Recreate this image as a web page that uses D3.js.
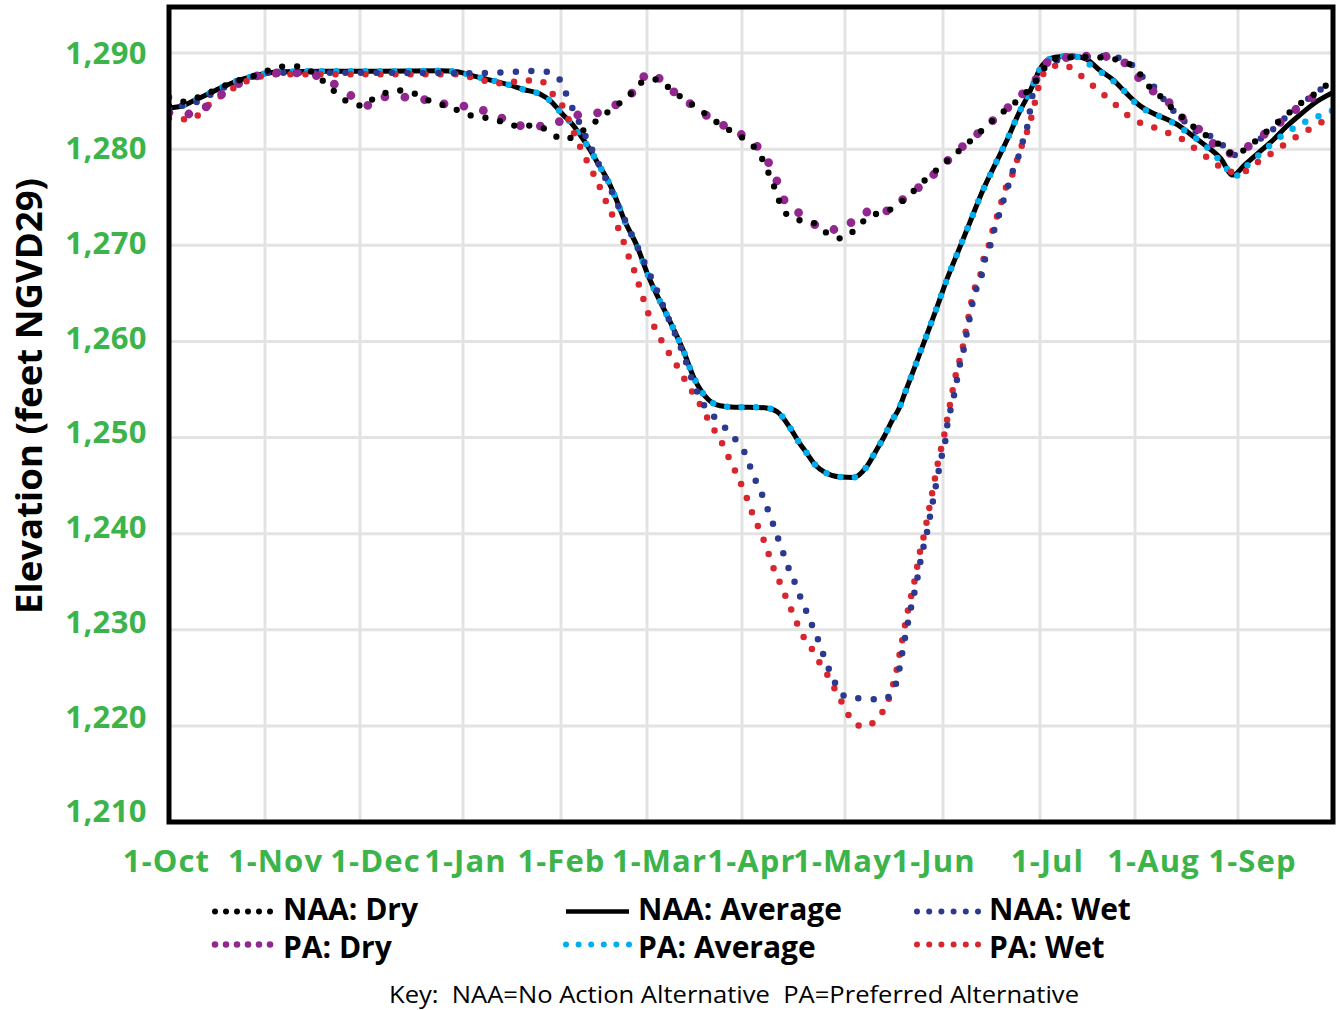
<!DOCTYPE html>
<html><head><meta charset="utf-8">
<script src="https://cdn.jsdelivr.net/npm/d3@7"></script>
<style>body{margin:0;background:#fff}svg{display:block}</style>
</head><body><svg id="c" width="1340" height="1010"></svg>
<script>
// ---- data (x = months since 1-Oct, y = elevation ft NGVD29) ----
const monthLabels = ["1-Oct","1-Nov","1-Dec","1-Jan","1-Feb","1-Mar","1-Apr","1-May","1-Jun","1-Jul","1-Aug","1-Sep"];
const yTicks = [1210,1220,1230,1240,1250,1260,1270,1280,1290];

const naaDry = [[0,1284.5],[0.03,1284.6],[0.32,1285.45],[0.64,1286.85],[0.91,1287.7],[1.2,1288.6],[1.36,1288.6],[1.49,1288.05],[1.61,1287.1],[1.72,1286.1],[1.84,1285.1],[1.97,1284.6],[2.04,1284.5],[2.11,1285.1],[2.21,1285.7],[2.38,1286.1],[2.55,1285.7],[2.69,1284.95],[2.83,1284.5],[2.96,1284.0],[3.08,1283.5],[3.21,1283.3],[3.35,1283.0],[3.51,1282.45],[3.69,1282.45],[3.86,1282.0],[4.02,1281.0],[4.36,1282.6],[4.52,1283.7],[4.67,1284.7],[4.83,1285.9],[4.97,1287.1],[5.12,1287.25],[5.25,1286.2],[5.54,1284.2],[5.81,1282.3],[5.97,1281.4],[6.11,1280.3],[6.2,1278.9],[6.27,1277.2],[6.33,1275.6],[6.39,1273.8],[6.52,1272.7],[6.68,1272.4],[6.82,1271.3],[6.97,1270.7],[7.11,1271.7],[7.22,1272.8],[7.36,1273.4],[7.48,1273.8],[7.61,1274.8],[7.83,1276.9],[8.07,1279.0],[8.31,1281.1],[8.55,1283.3],[8.8,1285.35],[8.93,1286.7],[9.03,1288.2],[9.11,1289.2],[9.23,1289.45],[9.42,1289.6],[9.61,1289.55],[9.79,1289.35],[9.97,1288.65],[10.08,1287.4],[10.16,1286.2],[10.27,1285.3],[10.36,1284.25],[10.45,1283.4],[10.57,1282.3],[10.68,1281.5],[10.79,1280.7],[10.92,1279.6],[10.97,1279.4],[11.09,1280.1],[11.25,1281.4],[11.37,1282.4],[11.51,1283.55],[11.65,1284.7],[11.81,1285.75],[11.95,1286.8]];

const paDry = [[0,1283.8],[0.03,1283.7],[0.29,1283.65],[0.44,1284.95],[0.61,1286.1],[0.76,1287.0],[0.95,1287.7],[1.19,1287.95],[1.42,1287.9],[1.65,1287.2],[1.86,1285.9],[2.07,1284.55],[2.19,1285.45],[2.38,1285.4],[2.53,1285.4],[2.7,1284.9],[2.91,1284.6],[3.14,1284.25],[3.38,1283.3],[3.62,1282.4],[3.88,1282.4],[4.1,1283.45],[4.39,1283.7],[4.67,1284.8],[4.85,1286.05],[5.03,1288.05],[5.21,1286.5],[5.39,1285.2],[5.58,1283.8],[5.78,1282.6],[5.97,1281.65],[6.13,1280.5],[6.24,1278.95],[6.32,1277.2],[6.42,1274.5],[6.57,1273.25],[6.77,1271.85],[6.97,1271.6],[7.17,1273.4],[7.45,1273.6],[7.62,1275.05],[7.8,1276.4],[7.97,1278.0],[8.12,1279.55],[8.3,1281.1],[8.47,1282.6],[8.65,1284.15],[8.81,1285.65],[8.94,1287.0],[9.09,1289.1],[9.35,1289.6],[9.6,1289.7],[9.84,1289.3],[10.02,1287.6],[10.14,1286.3],[10.29,1285.3],[10.44,1283.45],[10.65,1281.8],[10.78,1280.4],[10.94,1279.55],[11.12,1280.35],[11.27,1281.5],[11.44,1282.75],[11.6,1284.05],[11.76,1285.2],[11.94,1286.15]];

const naaAverage = [[0,1284.3],[0.14,1284.5],[0.25,1285.0],[0.42,1285.8],[0.58,1286.55],[0.74,1287.2],[0.88,1287.6],[1.05,1287.95],[1.19,1288.05],[1.6,1288.1],[2.2,1288.1],[2.78,1288.15],[2.94,1288.05],[3.11,1287.6],[3.48,1286.65],[3.62,1286.2],[3.78,1285.75],[3.9,1284.95],[4.01,1283.7],[4.14,1282.5],[4.26,1281.0],[4.34,1279.9],[4.43,1278.5],[4.53,1277.0],[4.63,1275.05],[4.74,1272.55],[4.88,1270.0],[5.01,1266.9],[5.26,1261.7],[5.38,1259.1],[5.49,1256.3],[5.56,1255.0],[5.65,1253.9],[5.77,1253.3],[5.92,1253.15],[6.06,1253.15],[6.22,1253.1],[6.34,1252.7],[6.47,1250.95],[6.55,1249.55],[6.63,1248.35],[6.71,1247.15],[6.81,1246.35],[6.95,1245.9],[7.09,1245.85],[7.22,1246.95],[7.31,1248.5],[7.4,1250.1],[7.48,1251.75],[7.55,1253.0],[7.61,1254.6],[7.72,1257.55],[7.83,1260.55],[7.94,1263.6],[8.05,1266.7],[8.17,1269.7],[8.29,1272.7],[8.41,1275.7],[8.53,1278.25],[8.66,1280.95],[8.79,1283.9],[8.87,1285.45],[8.94,1287.0],[8.99,1288.15],[9.06,1289.1],[9.16,1289.55],[9.35,1289.7],[9.49,1289.35],[9.63,1288.2],[9.77,1287.2],[9.91,1285.8],[10.05,1284.5],[10.18,1283.7],[10.31,1283.1],[10.44,1282.35],[10.57,1281.3],[10.7,1280.25],[10.83,1279.05],[10.95,1277.3],[11.07,1278.35],[11.23,1279.75],[11.37,1280.95],[11.51,1282.35],[11.65,1283.55],[11.83,1284.95],[12,1285.9]];

const paAverage = [[0,1284.3],[0.14,1284.5],[0.25,1285.0],[0.42,1285.8],[0.58,1286.55],[0.74,1287.2],[0.88,1287.6],[1.05,1287.95],[1.19,1288.05],[1.6,1288.1],[2.2,1288.1],[2.78,1288.15],[2.94,1288.05],[3.11,1287.6],[3.48,1286.65],[3.62,1286.2],[3.78,1285.75],[3.9,1284.95],[4.01,1283.7],[4.14,1282.5],[4.26,1281.0],[4.34,1279.9],[4.43,1278.5],[4.53,1277.0],[4.63,1275.05],[4.74,1272.55],[4.88,1270.0],[5.01,1266.9],[5.26,1261.7],[5.38,1259.1],[5.49,1256.3],[5.56,1255.0],[5.65,1253.9],[5.77,1253.3],[5.92,1253.15],[6.06,1253.15],[6.22,1253.1],[6.34,1252.7],[6.47,1250.95],[6.55,1249.55],[6.63,1248.35],[6.71,1247.15],[6.81,1246.35],[6.95,1245.9],[7.09,1245.85],[7.22,1246.95],[7.31,1248.5],[7.4,1250.1],[7.48,1251.75],[7.55,1253.0],[7.61,1254.6],[7.72,1257.55],[7.83,1260.55],[7.94,1263.6],[8.05,1266.7],[8.17,1269.7],[8.29,1272.7],[8.41,1275.7],[8.53,1278.25],[8.66,1280.95],[8.79,1283.9],[8.87,1285.45],[8.94,1287.0],[8.99,1288.15],[9.06,1289.1],[9.16,1289.55],[9.35,1289.7],[9.47,1289.1],[9.63,1288.1],[9.77,1287.1],[9.9,1285.9],[10.02,1284.65],[10.15,1283.8],[10.29,1283.2],[10.42,1282.4],[10.54,1281.5],[10.67,1280.5],[10.77,1279.4],[10.87,1278.3],[10.96,1277.1],[11.07,1278.05],[11.18,1279.05],[11.29,1280.0],[11.41,1281.0],[11.54,1281.9],[11.68,1282.7],[11.84,1283.4],[11.99,1284.0]];

const naaWet = [[0,1285.4],[0.15,1284.5],[0.31,1285.0],[0.44,1285.7],[0.6,1286.55],[0.74,1287.2],[0.9,1287.6],[1.04,1287.95],[2.0,1287.95],[3.0,1287.9],[3.44,1288.0],[3.78,1288.15],[3.96,1287.6],[4.04,1286.15],[4.11,1284.7],[4.19,1283.2],[4.27,1281.65],[4.35,1280.15],[4.43,1278.6],[4.51,1277.1],[4.59,1275.6],[4.67,1274.0],[4.75,1272.5],[4.83,1270.95],[4.91,1269.4],[4.99,1267.8],[5.06,1266.3],[5.13,1264.7],[5.19,1263.2],[5.26,1261.6],[5.37,1259.0],[5.48,1255.9],[5.63,1252.9],[5.75,1251.8],[5.86,1250.6],[5.97,1249.3],[6.05,1247.9],[6.1,1246.3],[6.16,1244.9],[6.22,1243.4],[6.27,1241.9],[6.32,1240.45],[6.37,1238.9],[6.42,1237.4],[6.47,1235.9],[6.53,1234.5],[6.58,1233.0],[6.63,1231.8],[6.69,1230.2],[6.75,1228.65],[6.8,1227.1],[6.86,1225.5],[6.92,1224.15],[7.03,1222.9],[7.21,1222.85],[7.37,1222.7],[7.49,1223.55],[7.54,1225.2],[7.6,1228.5],[7.66,1231.65],[7.73,1234.9],[7.79,1238.15],[7.83,1239.8],[7.86,1241.4],[7.89,1243.0],[7.95,1246.2],[7.98,1247.8],[8.02,1249.4],[8.04,1251.0],[8.11,1254.2],[8.14,1255.8],[8.17,1257.4],[8.21,1259.0],[8.24,1260.6],[8.29,1263.2],[8.32,1264.8],[8.39,1266.45],[8.42,1268.05],[8.48,1269.7],[8.52,1271.3],[8.57,1272.9],[8.62,1274.55],[8.67,1276.1],[8.72,1277.75],[8.78,1279.3],[8.82,1280.7],[8.87,1282.4],[8.9,1284.2],[8.93,1286.0],[8.98,1287.55],[9.08,1288.75],[9.21,1289.35],[9.35,1289.6],[9.53,1289.6],[9.69,1289.7],[9.84,1289.45],[9.98,1288.65],[10.1,1287.2],[10.23,1286.0],[10.32,1284.5],[10.44,1283.45],[10.55,1282.0],[10.67,1281.65],[10.77,1281.1],[10.87,1280.25],[10.97,1279.4],[11.11,1280.25],[11.21,1280.9],[11.34,1281.8],[11.44,1282.75],[11.57,1283.9],[11.7,1284.95],[11.83,1285.9],[11.95,1286.85]];

const paWet = [[0,1283.2],[0.24,1283.1],[0.36,1284.15],[0.48,1285.1],[0.62,1286.0],[0.76,1286.85],[0.91,1287.4],[1.07,1287.8],[2.0,1287.8],[2.97,1287.8],[3.12,1287.35],[3.28,1287.0],[3.43,1286.8],[3.59,1287.15],[3.78,1287.15],[3.94,1285.4],[4.04,1284.15],[4.11,1282.55],[4.18,1281.05],[4.26,1279.55],[4.34,1278.05],[4.42,1276.7],[4.49,1275.2],[4.57,1273.65],[4.65,1272.1],[4.72,1270.55],[4.78,1269.0],[4.85,1267.4],[4.91,1265.75],[4.97,1264.1],[5.02,1262.75],[5.09,1261.25],[5.17,1259.8],[5.26,1258.3],[5.35,1256.9],[5.43,1255.45],[5.52,1254.1],[5.61,1252.5],[5.69,1251.05],[5.77,1249.8],[5.84,1248.35],[5.91,1246.9],[5.98,1245.4],[6.04,1243.9],[6.09,1242.4],[6.15,1240.9],[6.21,1239.35],[6.26,1237.85],[6.31,1236.3],[6.37,1234.85],[6.43,1233.3],[6.49,1231.8],[6.55,1230.3],[6.62,1228.85],[6.69,1227.8],[6.76,1226.45],[6.84,1225.1],[6.91,1223.65],[6.98,1222.25],[7.05,1220.9],[7.19,1219.9],[7.34,1220.9],[7.43,1222.35],[7.48,1223.9],[7.52,1225.5],[7.58,1228.7],[7.64,1231.9],[7.71,1235.1],[7.77,1238.35],[7.81,1240.0],[7.84,1241.6],[7.87,1243.2],[7.93,1246.4],[7.96,1248.0],[8.0,1249.6],[8.03,1251.2],[8.09,1254.4],[8.12,1256.0],[8.16,1257.6],[8.2,1259.2],[8.23,1260.8],[8.28,1263.4],[8.31,1265.0],[8.38,1266.65],[8.41,1268.25],[8.47,1269.9],[8.51,1271.5],[8.56,1273.1],[8.61,1274.75],[8.66,1276.3],[8.72,1277.5],[8.77,1279.05],[8.82,1280.6],[8.88,1282.2],[8.92,1283.65],[8.96,1285.4],[9.0,1287.0],[9.09,1288.4],[9.24,1288.8],[9.39,1287.95],[9.52,1286.9],[9.66,1285.75],[9.79,1284.65],[9.92,1283.55],[10.06,1282.7],[10.19,1282.25],[10.33,1281.65],[10.45,1281.1],[10.57,1280.15],[10.68,1279.3],[10.79,1278.45],[10.89,1277.65],[11.05,1277.65],[11.2,1278.6],[11.35,1279.55],[11.5,1280.55],[11.65,1281.5],[11.81,1282.4],[11.96,1283.3]];

const seriesNames = ["NAA: Dry","PA: Dry","NAA: Average","PA: Average","NAA: Wet","PA: Wet"];
const keyText = "Key:  NAA=No Action Alternative  PA=Preferred Alternative";

// ---- layout / styles ----
const svg = d3.select("#c");
const L = 169, R = 1333, T = 7, B = 822;
const x = d3.scaleLinear().domain(d3.range(13))
  .range([169,265,360,463,561,647,742,845,943,1040,1135,1238,1333]);
const xLab = d3.scaleLinear().domain(d3.range(12))
  .range([166,275,375,465,561,659,751,842,933,1047,1153,1252]);
const y = d3.scaleLinear().domain([1210,1290]).range([822,53]);
const yLab = d3.scaleLinear().domain([1210,1290]).range([812,54]);
const green = "#3cb44b";
const FONT = "'Open Sans', 'Noto Sans', sans-serif";

const styles = {
  "NAA: Dry":     {data: naaDry,     color:"#000000", w:6.3, dash:"0 15"},
  "PA: Dry":      {data: paDry,      color:"#92278f", w:8.8, dash:"0 20"},
  "NAA: Average": {data: naaAverage, color:"#000000", w:5,   dash:null},
  "PA: Average":  {data: paAverage,  color:"#00aeef", w:6.5, dash:"0 14.5"},
  "NAA: Wet":     {data: naaWet,     color:"#2b3990", w:6.5, dash:"0 15.5"},
  "PA: Wet":      {data: paWet,      color:"#d7262e", w:6.5, dash:"0 15"}
};

// gridlines
const g = svg.append("g");
g.selectAll(".vg").data(d3.range(1,12)).join("line")
  .attr("x1", d=>x(d)).attr("x2", d=>x(d)).attr("y1", T).attr("y2", B)
  .attr("stroke", "#e3e3e3").attr("stroke-width", 3);
g.selectAll(".hg").data(yTicks.slice(1)).join("line")
  .attr("x1", L).attr("x2", R).attr("y1", d=>y(d)).attr("y2", d=>y(d))
  .attr("stroke", "#e3e3e3").attr("stroke-width", 3);

// clip
svg.append("clipPath").attr("id","clip").append("rect")
  .attr("x", L).attr("y", T).attr("width", R-L).attr("height", B-T);

const line = d3.line().x(d=>x(d[0])).y(d=>y(d[1])).curve(d3.curveMonotoneX);
const drawOrder = ["NAA: Average","PA: Average","PA: Wet","NAA: Wet","PA: Dry","NAA: Dry"];
const plot = svg.append("g").attr("clip-path","url(#clip)");
drawOrder.forEach(name => {
  const s = styles[name];
  plot.append("path").datum(s.data).attr("d", line)
    .attr("fill","none").attr("stroke", s.color).attr("stroke-width", s.w)
    .attr("stroke-linecap", s.dash ? "round" : "butt")
    .attr("stroke-linejoin","round")
    .attr("stroke-dasharray", s.dash);
});

// frame
svg.append("rect").attr("x", L).attr("y", T).attr("width", R-L).attr("height", B-T)
  .attr("fill","none").attr("stroke","#000").attr("stroke-width",5);

// y axis labels
const ya = svg.append("g").attr("transform","translate(150,0)")
  .call(d3.axisLeft(yLab).tickValues(yTicks).tickFormat(d3.format(",")).tickSize(0).tickPadding(3));
ya.select(".domain").remove();
ya.selectAll("text").attr("fill", green).style("font-family", FONT)
  .style("font-size","31px").style("font-weight","700").style("letter-spacing","0.4px");

// x axis labels
const xa = svg.append("g")
  .call(d3.axisBottom(xLab).tickValues(d3.range(12)).tickFormat(i=>monthLabels[i]).tickSize(0));
xa.select(".domain").remove();
xa.selectAll("text").attr("y", 872).attr("dy", null).attr("fill", green)
  .style("font-family", FONT).style("font-size","31px").style("font-weight","700")
  .style("letter-spacing","1.1px");

// y title
svg.append("text").attr("transform","translate(42,396) rotate(-90)")
  .attr("text-anchor","middle").attr("textLength",436).attr("lengthAdjust","spacingAndGlyphs")
  .style("font-family", FONT).style("font-size","36px").style("font-weight","700")
  .attr("fill","#000").text("Elevation (feet NGVD29)");

// legend
const legCols = [[215,270,283],[566,629,638],[917,978,989]];
const legRows = [[911.5,919.5],[944.5,958]];
const legItems = [["NAA: Dry",0,0],["PA: Dry",0,1],["NAA: Average",1,0],["PA: Average",1,1],["NAA: Wet",2,0],["PA: Wet",2,1]];
const lg = svg.append("g");
legItems.forEach(([name,c,r]) => {
  const s = styles[name];
  const [x1,x2,tx] = legCols[c];
  const [cy, by] = legRows[r];
  lg.append("line").attr("x1",x1).attr("x2", s.dash ? x2 + 0.5 : x2).attr("y1",cy).attr("y2",cy)
    .attr("stroke", s.color)
    .attr("stroke-width", s.dash ? (name==="PA: Dry" ? 6.6 : 6) : 4.5)
    .attr("stroke-linecap", s.dash ? "round" : "butt")
    .attr("stroke-dasharray", s.dash ? `0 ${(x2-x1)/5}` : null);
  lg.append("text").attr("x", tx).attr("y", by)
    .style("font-family", FONT).style("font-size","30px").style("font-weight","700")
    .attr("fill","#000").text(name);
});

svg.append("text").attr("x", 734).attr("y", 1003).attr("text-anchor","middle")
  .attr("textLength", 690).attr("lengthAdjust","spacingAndGlyphs")
  .style("font-family", FONT).style("font-size","23px").style("white-space","pre")
  .attr("fill","#000").text(keyText);
</script>
</body></html>
